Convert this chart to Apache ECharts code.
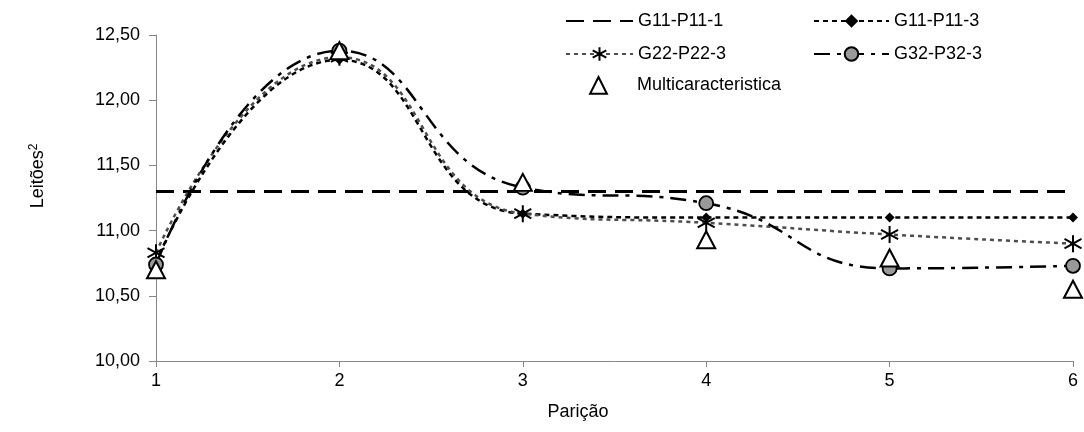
<!DOCTYPE html>
<html>
<head>
<meta charset="utf-8">
<script src="https://cdn.jsdelivr.net/npm/echarts@6/dist/echarts.min.js"></script>
<style>
    html, body { margin: 0; padding: 0; background: #fff; }
    #main { width: 1084px; height: 432px; }
</style>
</head>
<body>
<div id="main"></div>
<script>
    // dados
    var paricao = [1, 2, 3, 4, 5, 6];
    var g11p11_1 = [11.30, 11.30, 11.30, 11.30, 11.30, 11.30];
    var g11p11_3 = [10.76, 12.31, 11.13, 11.10, 11.10, 11.10];
    var g22p22_3 = [10.83, 12.33, 11.13, 11.06, 10.97, 10.90];
    var g32p32_3 = [10.74, 12.38, 11.33, 11.21, 10.71, 10.73];
    var multi = [10.70, 12.38, 11.37, 10.93, 10.79, 10.55];
    var yTicks = [10, 10.5, 11, 11.5, 12, 12.5];

    var FONT = 'Liberation Sans';
    var FS = 18;
    var asterisco = 'path://M10,0 L10,20 M1.5,4.5 L18.5,15.5 M1.5,15.5 L18.5,4.5';

    function pares(ys) {
        var out = [];
        for (var i = 0; i < paricao.length; i++) {
            out.push([paricao[i], ys[i]]);
        }
        return out;
    }

    function legenda(nome, left, top, largura, extra) {
        var l = {
            data: [nome],
            left: left,
            top: top,
            itemWidth: largura,
            itemHeight: 17,
            textStyle: {fontFamily: FONT, fontSize: FS, color: '#000'}
        };
        if (extra) {
            for (var k in extra) l[k] = extra[k];
        }
        return l;
    }

    var myChart = echarts.init(document.getElementById('main'));

    var option = {
        animation: false,
        grid: {left: 156, right: 11, top: 35, bottom: 71},
        legend: [
            legenda('G11-P11-1', 560, 7, 67, {itemStyle: {color: 'transparent', borderColor: 'transparent'}}),
            legenda('G11-P11-3', 808, 7, 75),
            legenda('G22-P22-3', 560, 40, 67),
            legenda('G32-P32-3', 808, 40, 75),
            legenda('Multicaracteristica', 560, 71, 67, {itemHeight: 21})
        ],
        xAxis: {
            type: 'value',
            min: 1,
            max: 6,
            interval: 1,
            axisLine: {lineStyle: {color: '#868686', width: 1}},
            axisTick: {length: 6, lineStyle: {color: '#868686'}},
            axisLabel: {fontFamily: FONT, fontSize: FS, color: '#000', margin: 11},
            splitLine: {show: false}
        },
        yAxis: {
            type: 'value',
            min: yTicks[0],
            max: yTicks[yTicks.length - 1],
            interval: 0.5,
            axisLine: {show: true, lineStyle: {color: '#868686', width: 1}},
            axisTick: {show: true, length: 7, lineStyle: {color: '#868686'}},
            axisLabel: {
                fontFamily: FONT, fontSize: FS, color: '#000', margin: 16,
                formatter: function (v) { return v.toFixed(2).replace('.', ','); }
            },
            splitLine: {show: false}
        },
        graphic: [
            {
                type: 'text', x: 38, y: 176, rotation: Math.PI / 2,
                style: {
                    text: 'Leitões{s|2}', fontFamily: FONT, fontSize: FS, fill: '#000',
                    align: 'center', verticalAlign: 'middle',
                    rich: {s: {fontFamily: FONT, fontSize: 12, fill: '#000', verticalAlign: 'top', padding: [0, 0, 8, 0]}}
                }
            },
            {
                type: 'text', x: 578, y: 412,
                style: {text: 'Parição', fontFamily: FONT, fontSize: FS, fill: '#000', align: 'center', verticalAlign: 'middle'}
            }
        ],
        series: [
            {
                name: 'G11-P11-1', type: 'line', data: pares(g11p11_1),
                symbol: 'none',
                itemStyle: {color: '#000'},
                lineStyle: {color: '#000', width: 3, type: [18, 9]}
            },
            {
                name: 'G11-P11-3', type: 'line', data: pares(g11p11_3),
                smooth: 0.5,
                symbol: 'diamond', symbolSize: 10,
                itemStyle: {color: '#000'},
                lineStyle: {color: '#000', width: 2.5, type: [5, 4]}
            },
            {
                name: 'G22-P22-3', type: 'line', data: pares(g22p22_3),
                smooth: 0.5,
                symbol: asterisco, symbolSize: 17,
                itemStyle: {color: '#000', borderColor: '#000', borderWidth: 2},
                lineStyle: {color: '#4d4d4d', width: 2.5, type: [4, 4]}
            },
            {
                name: 'G32-P32-3', type: 'line', data: pares(g32p32_3),
                smooth: 0.5,
                symbol: 'circle', symbolSize: 14,
                itemStyle: {color: '#999999', borderColor: '#000', borderWidth: 1.8},
                lineStyle: {color: '#000', width: 2.5, type: [16, 7, 4, 7]}
            },
            {
                // só marcadores, sem linha
                name: 'Multicaracteristica', type: 'line', data: pares(multi),
                symbol: 'triangle', symbolSize: [18, 17],
                itemStyle: {color: '#fff', borderColor: '#000', borderWidth: 2},
                lineStyle: {width: 0, opacity: 0},
                z: 5
            }
        ]
    };

    myChart.setOption(option);
</script>
</body>
</html>
